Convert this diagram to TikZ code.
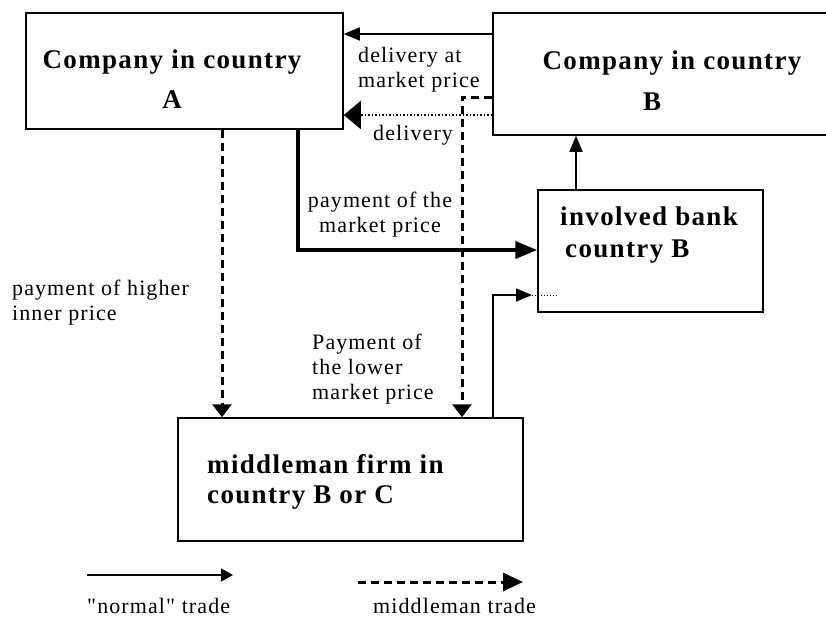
\documentclass[tikz,border=0pt]{standalone}
\usepackage{fontspec}
\setmainfont{Liberation Serif}
\newfontfamily\labfont[LetterSpace=5]{Liberation Serif}
\newfontfamily\boxfont[LetterSpace=5]{Liberation Serif Bold}
\usetikzlibrary{shapes,arrows,arrows.meta}

\begin{document}
\begin{tikzpicture}
  [x=1pt,y=-1pt,
   box/.style={draw,line width=1.5pt,inner sep=0pt},
   lab/.style={font=\labfont\fontsize{22}{25}\selectfont,inner sep=0pt,anchor=base west,align=left},
   blab/.style={font=\boxfont\fontsize{27}{31}\selectfont,inner sep=0pt,anchor=base},
   norm/.style={line width=1.5pt,-{Triangle[length=16pt,width=13pt]}},
   deal/.style={line width=3pt,dash pattern=on 8pt off 5pt,-{Triangle[length=13pt,width=19pt]}},
   pay/.style={line width=4pt,-{Triangle[length=22pt,width=17pt]}}]

  \useasboundingbox (0,0) rectangle (826,619);

  % boxes
  \node[box,minimum width=317pt,minimum height=116pt] (A) at (184.5,71)   {};
  \node[box,minimum width=347pt,minimum height=122pt] (B) at (666.5,74)   {};
  \node[box,minimum width=225pt,minimum height=122pt] (K) at (650.5,251)  {};
  \node[box,minimum width=345pt,minimum height=123pt] (M) at (350.5,479.5) {};

  \node[blab] (A1) at (172,68)  {Company in country};
  \node[blab] (A2) at (172,108) {A};
  \node[blab] (B1) at (672,69)  {Company in country};
  \node[blab] (B2) at (652,110) {B};
  \node[blab,anchor=base west] (K1) at (560,225) {involved bank};
  \node[blab,anchor=base west] (K2) at (565,257) {country B};
  \node[blab,anchor=base west] (M1) at (207,473) {middleman firm in};
  \node[blab,anchor=base west] (M2) at (207,503) {country B or C};

  % delivery (multi-line labels sit on their last line)
  \draw[norm] (B.west |- 0,34) -- (A.east |- 0,34);
  \node[lab] (d1) at (358,87) {delivery at\\market price};
  \draw[line width=1.5pt,dotted,-{Triangle[length=17pt,width=28pt]}] (B.west |- 0,115) -- (A.east |- 0,115);
  \node[lab] (d2) at (373,140) {delivery};

  % payments
  \draw[pay] (A.south -| 298,0) -- (298,250) -- (K.west |- 0,250);
  \node[lab,anchor=base,align=center] (p1) at (380,232) {payment of the\\market price};
  \draw[deal] (A.south -| 222,0) -- (M.north -| 222,0);
  \node[lab] (p2) at (12,320) {payment of higher\\inner price};
  \draw[deal] (B.west |- 0,97) -- (462,97) -- (M.north -| 462,0);
  \node[lab] (p3) at (312,399) {Payment of\\the lower\\market price};

  \coordinate (kin) at (558,295);
  \draw[norm] (M.north -| 493,0) -- (493,295) -- (532,295);
  \draw[line width=1pt,dotted] (532,295) -- (kin);
  \draw[norm] (K.north -| 576,0) -- (B.south -| 576,0);

  % legend
  \coordinate (n1) at (87,575);
  \coordinate (n2) at (233,575);
  \coordinate (m1) at (358,582);
  \coordinate (m2) at (523,582);
  \draw[line width=1.5pt,-{Triangle[length=12pt,width=13pt]}] (n1) -- (n2);
  \draw[deal,-{Triangle[length=20pt,width=18pt]}] (m1) -- (m2);
  \node[lab] (l1) at (87,613)  {"normal" trade};
  \node[lab] (l2) at (373,613) {middleman trade};

\end{tikzpicture}
\end{document}
